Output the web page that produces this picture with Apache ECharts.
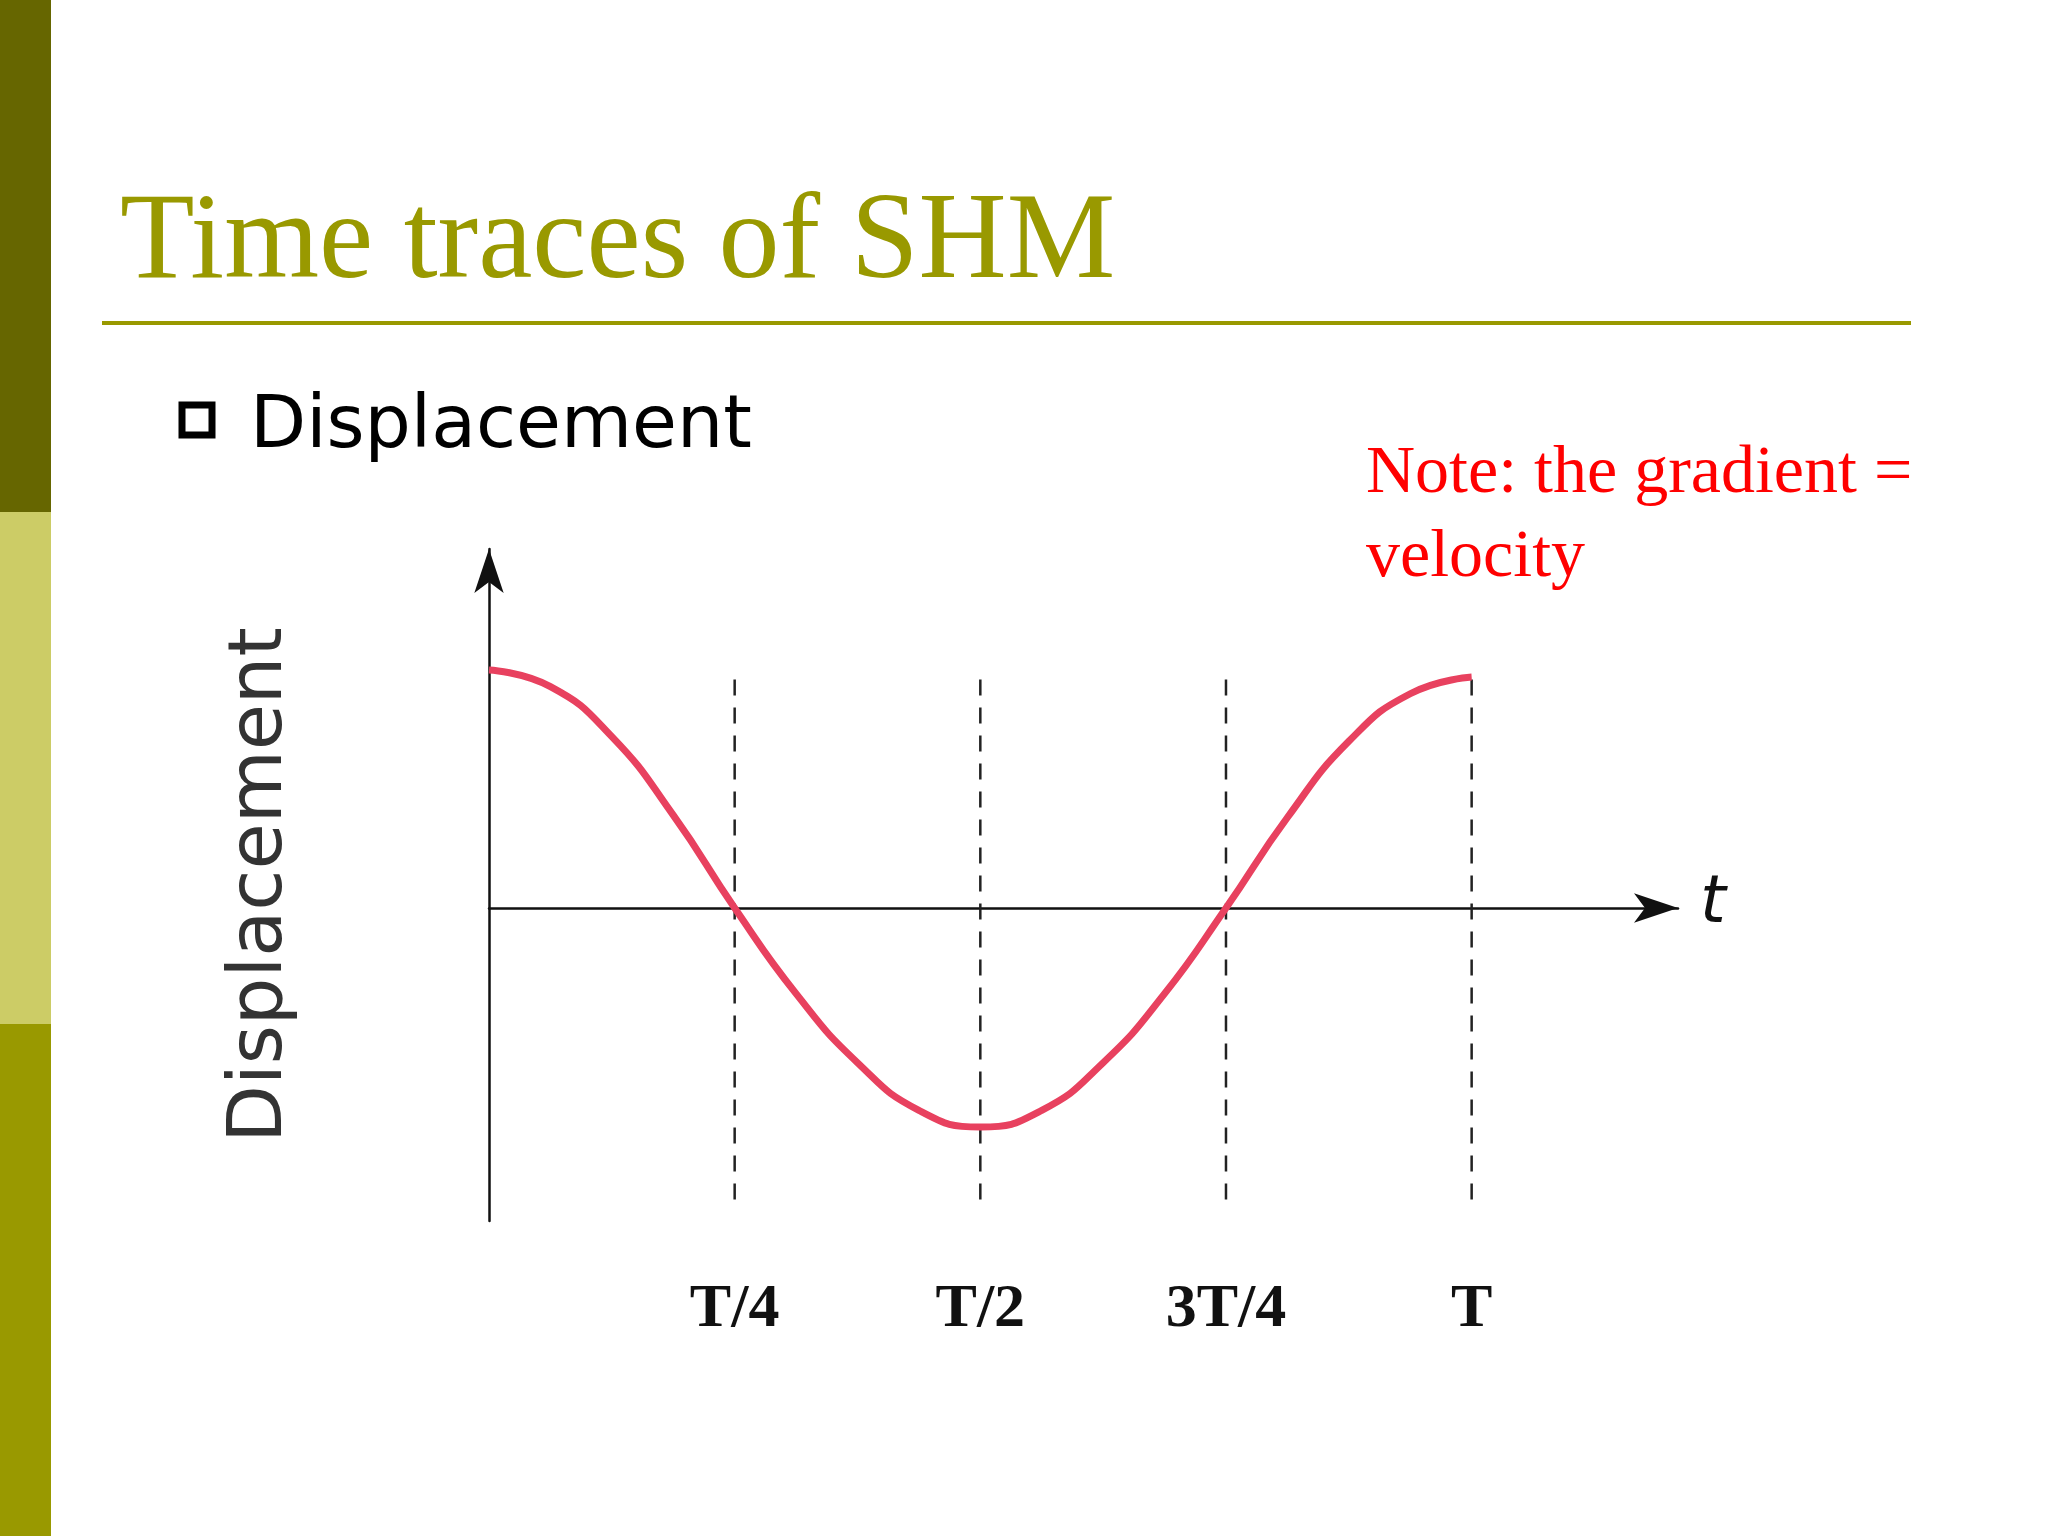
<!DOCTYPE html>
<html>
<head>
<meta charset="UTF-8">
<script src="https://cdn.jsdelivr.net/npm/echarts@6/dist/echarts.min.js"></script>
<style>html,body{margin:0;background:#fff}</style>
</head>
<body>
<div id="chart" style="width:2048px;height:1536px;"></div>
<script>
// displacement, t in units of T
const times = [0, 0.0625, 0.125, 0.1875, 0.25, 0.3125, 0.375, 0.4375, 0.5, 0.5625, 0.625, 0.6875, 0.75, 0.8125, 0.875, 0.9375, 1];
const displacement = [1.0, 0.93, 0.72, 0.39, 0, -0.36, -0.65, -0.85, -0.92, -0.85, -0.65, -0.36, 0, 0.38, 0.7, 0.9, 0.97];
const tickValues = [0.25, 0.5, 0.75, 1];
const tickLabels = ['T/4', 'T/2', '3T/4', 'T'];

const chart = echarts.init(document.getElementById('chart'));

const dashed = tickValues.map(v => ({
  type: 'line', silent: true, symbol: 'none', z: 1,
  lineStyle: {color: '#222', width: 2.5, type: [16, 12]},
  data: [[v, 0.96], [v, -1.23]]
}));

chart.setOption({
  animation: false,
  grid: {left: 489, top: 549, width: 1189, bottom: 315, outerBoundsMode: 'none', containLabel: false},
  xAxis: [{
    type: 'value', min: 0, max: 1.21, interval: 0.25,
    axisLine: {onZero: true, symbol: ['none', 'arrow'], symbolSize: [22, 44], lineStyle: {color: '#111', width: 2.5}},
    axisTick: {show: false}, splitLine: {show: false}, axisLabel: {show: false}
  }, {
    type: 'value', position: 'bottom', min: 0, max: 1.21, interval: 0.25,
    axisLine: {show: false, onZero: false}, axisTick: {show: false}, splitLine: {show: false},
    axisLabel: {
      margin: 58, fontFamily: 'Liberation Serif', fontWeight: 'bold', fontSize: 62, color: '#111',
      showMinLabel: false, showMaxLabel: false, hideOverlap: false,
      formatter: v => { const i = tickValues.findIndex(t => Math.abs(t - v) < 1e-6); return i < 0 ? '' : tickLabels[i]; }
    }
  }],
  yAxis: {
    type: 'value', min: -1.315, max: 1.508,
    axisLine: {symbol: ['none', 'arrow'], symbolSize: [22, 44], lineStyle: {color: '#111', width: 2.5}},
    axisTick: {show: false}, axisLabel: {show: false}, splitLine: {show: false},
    name: 'Displacement', nameLocation: 'middle', nameRotate: 90, nameGap: 190,
    nameTextStyle: {fontFamily: 'DejaVu Sans', fontSize: 75, color: '#333'}
  },
  series: [
    ...dashed,
    {type: 'line', smooth: true, symbol: 'none', z: 3,
     lineStyle: {color: '#e8415f', width: 7},
     data: times.map((t, i) => [t, displacement[i]])}
  ],
  graphic: [
    {type: 'rect', shape: {x: 0, y: 0, width: 51, height: 512}, style: {fill: '#666600'}},
    {type: 'rect', shape: {x: 0, y: 512, width: 51, height: 512}, style: {fill: '#cccc66'}},
    {type: 'rect', shape: {x: 0, y: 1024, width: 51, height: 512}, style: {fill: '#999900'}},
    {type: 'text', left: 120, top: 184, style: {text: 'Time traces of SHM', font: '122px "Liberation Serif"', fill: '#999900'}},
    {type: 'rect', shape: {x: 102, y: 321, width: 1809, height: 4}, style: {fill: '#999900'}},
    {type: 'rect', shape: {x: 182, y: 405, width: 30, height: 30}, style: {fill: 'none', stroke: '#000', lineWidth: 7}},
    {type: 'text', left: 250, top: 392, style: {text: 'Displacement', font: '73px "DejaVu Sans"', fill: '#000'}},
    {type: 'text', left: 1366, top: 432, style: {text: 'Note: the gradient =\nvelocity', font: '68px "Liberation Serif"', fill: '#ff0000', lineHeight: 84}},
    {type: 'text', left: 1700, top: 872, style: {text: 't', font: 'italic 66px "DejaVu Sans"', fill: '#111'}}
  ]
});
</script>
</body>
</html>
